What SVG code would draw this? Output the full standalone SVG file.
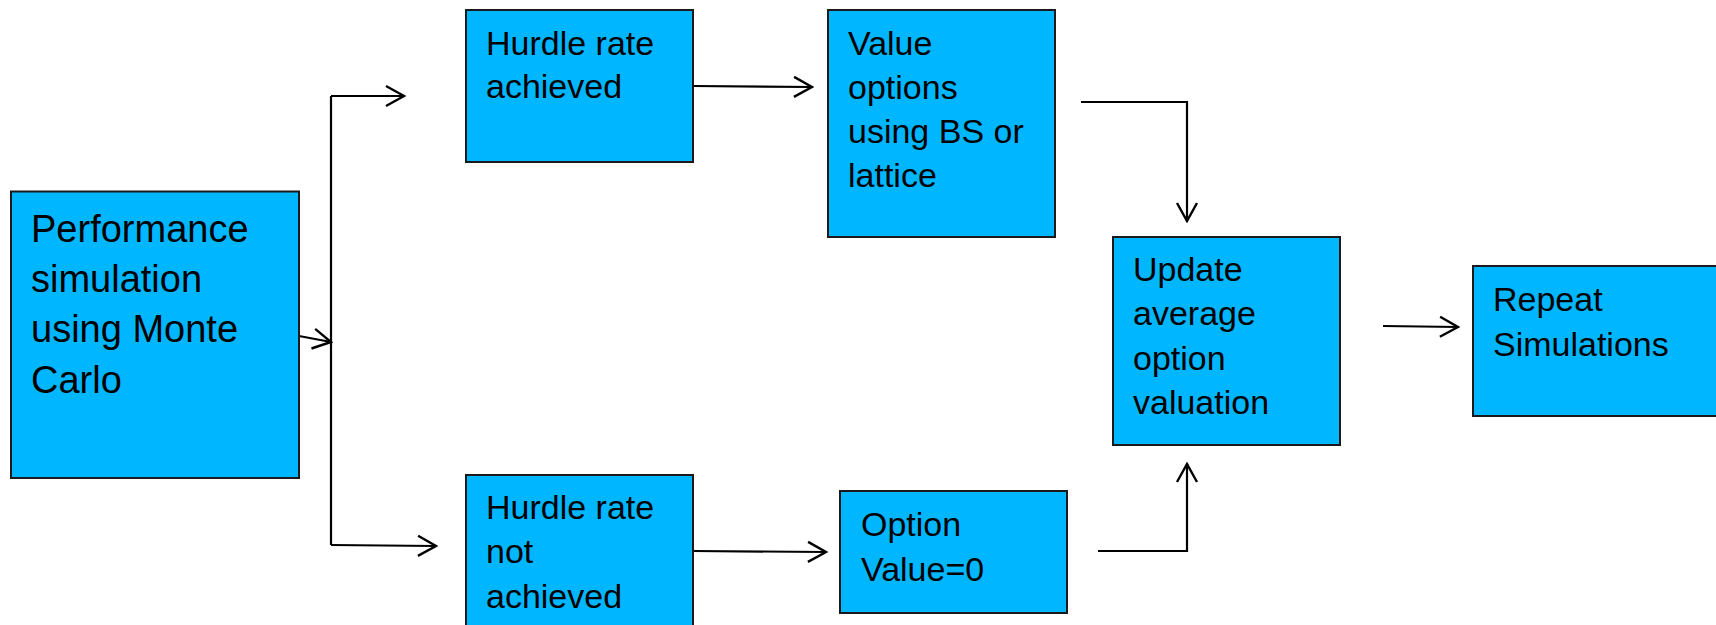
<svg xmlns="http://www.w3.org/2000/svg" width="1716" height="625" viewBox="0 0 1716 625">
  <style>
    .box { fill: #00B7FF; stroke: #1a1a1a; stroke-width: 2; }
    .lbl { font-family: "Liberation Sans", Arial, sans-serif; font-size: 34px; fill: #000; }
    .big { font-size: 38px; }
    .wire { fill: none; stroke: #000; stroke-width: 2.2; }
  </style>
  <defs>
    <!-- open V arrowhead, 18px long, 20px wide -->
    <marker id="open" viewBox="0 0 22 24" refX="20" refY="12" markerWidth="22" markerHeight="24" markerUnits="userSpaceOnUse" orient="auto">
      <path d="M2,2 L20,12 L2,22" fill="none" stroke="#000" stroke-width="2.4"/>
    </marker>
  </defs>

  <rect width="1716" height="625" fill="#fff"/>

  <g id="connectors">
    <line class="wire" x1="299" y1="336" x2="331" y2="342" marker-end="url(#open)"/>
    <line class="wire" x1="331" y1="96" x2="331" y2="545"/>
    <line class="wire" x1="331" y1="96" x2="404" y2="96" marker-end="url(#open)"/>
    <line class="wire" x1="331" y1="545" x2="436" y2="546" marker-end="url(#open)"/>
    <line class="wire" x1="693" y1="86" x2="812" y2="87" marker-end="url(#open)"/>
    <polyline class="wire" points="1081,102 1187,102 1187,221" marker-end="url(#open)"/>
    <line class="wire" x1="693" y1="551" x2="826" y2="552" marker-end="url(#open)"/>
    <polyline class="wire" points="1098,551 1187,551 1187,464" marker-end="url(#open)"/>
    <line class="wire" x1="1383" y1="326" x2="1458" y2="327" marker-end="url(#open)"/>
  </g>

  <g id="performance-simulation">
    <rect class="box" x="11" y="191.5" width="288" height="286.5"/>
    <text class="lbl big" x="31" y="242">Performance</text>
    <text class="lbl big" x="31" y="292">simulation</text>
    <text class="lbl big" x="31" y="342">using Monte</text>
    <text class="lbl big" x="31" y="393">Carlo</text>
  </g>

  <g id="hurdle-achieved">
    <rect class="box" x="466" y="10" width="227" height="152"/>
    <text class="lbl" x="486" y="55">Hurdle rate</text>
    <text class="lbl" x="486" y="98">achieved</text>
  </g>

  <g id="value-options">
    <rect class="box" x="828" y="10" width="227" height="227"/>
    <text class="lbl" x="848" y="55">Value</text>
    <text class="lbl" x="848" y="99">options</text>
    <text class="lbl" x="848" y="143">using BS or</text>
    <text class="lbl" x="848" y="187">lattice</text>
  </g>

  <g id="update-average">
    <rect class="box" x="1113" y="237" width="227" height="208"/>
    <text class="lbl" x="1133" y="281">Update</text>
    <text class="lbl" x="1133" y="325">average</text>
    <text class="lbl" x="1133" y="370">option</text>
    <text class="lbl" x="1133" y="414">valuation</text>
  </g>

  <g id="repeat-simulations">
    <rect class="box" x="1473" y="266" width="250" height="150"/>
    <text class="lbl" x="1493" y="311">Repeat</text>
    <text class="lbl" x="1493" y="356">Simulations</text>
  </g>

  <g id="hurdle-not-achieved">
    <rect class="box" x="466" y="475" width="227" height="160"/>
    <text class="lbl" x="486" y="519">Hurdle rate</text>
    <text class="lbl" x="486" y="563">not</text>
    <text class="lbl" x="486" y="608">achieved</text>
  </g>

  <g id="option-zero">
    <rect class="box" x="840" y="491" width="227" height="122"/>
    <text class="lbl" x="861" y="536">Option</text>
    <text class="lbl" x="861" y="581">Value=0</text>
  </g>
</svg>
